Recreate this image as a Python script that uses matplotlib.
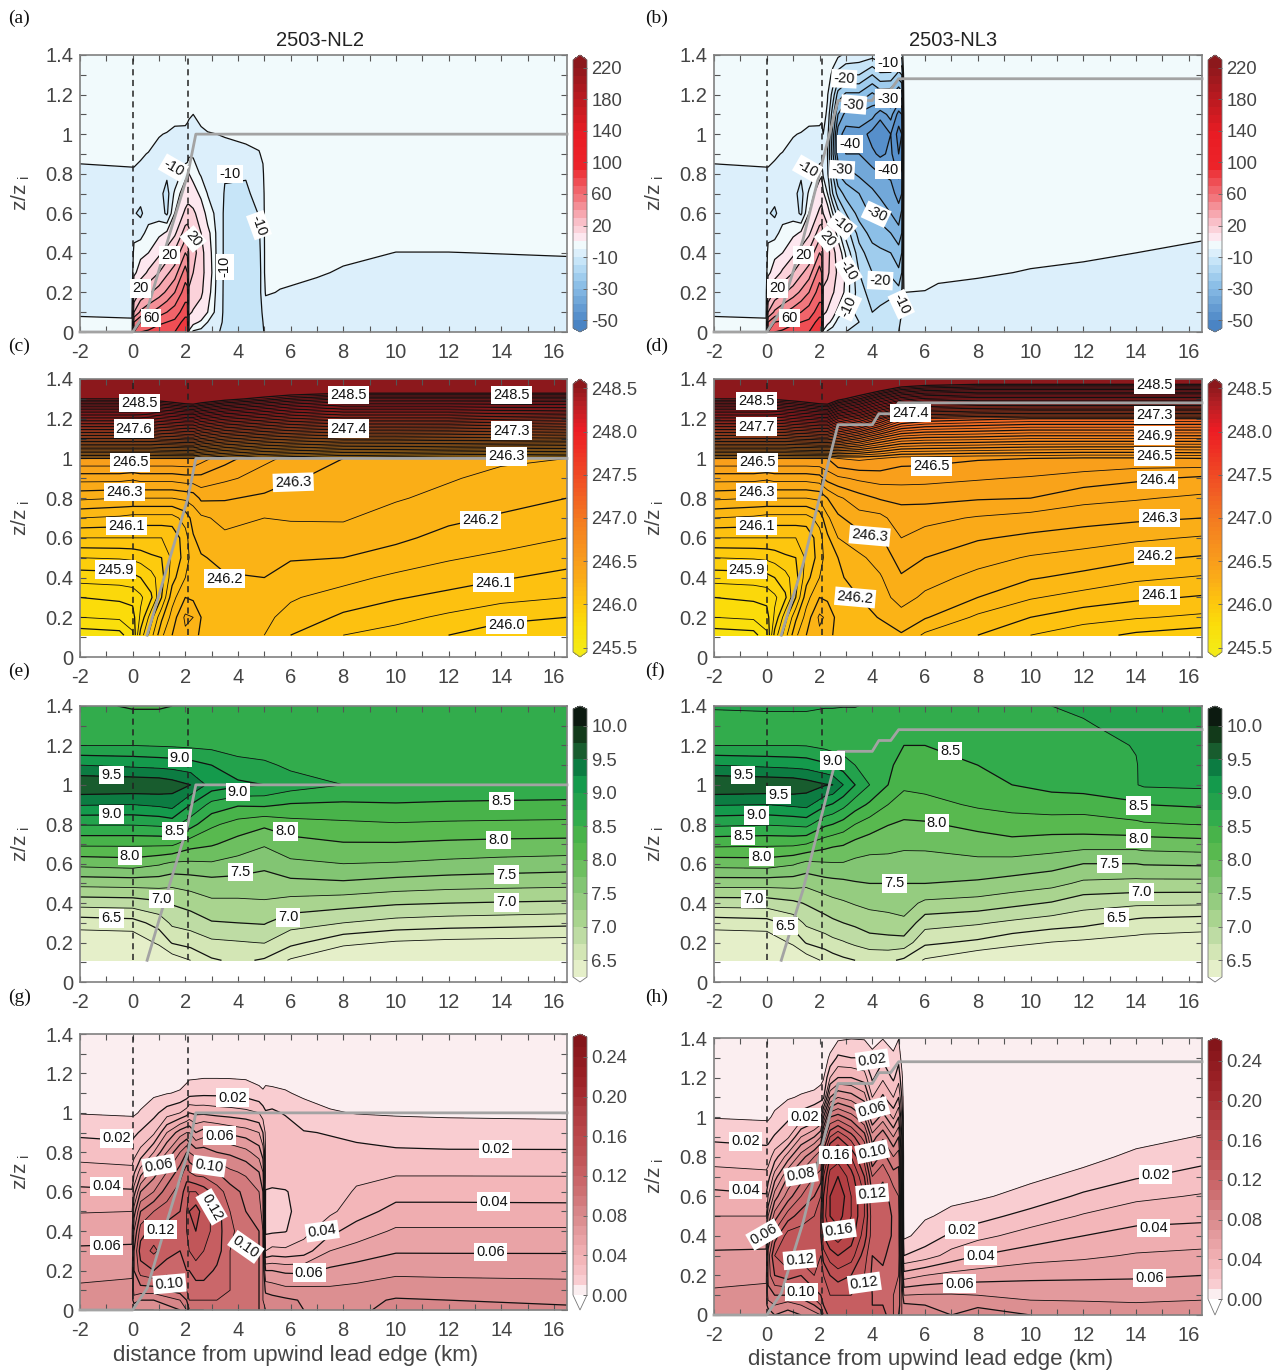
import numpy as np
import matplotlib
matplotlib.use('Agg')
import matplotlib.pyplot as plt
from matplotlib.colors import BoundaryNorm, LinearSegmentedColormap, ListedColormap
from matplotlib.cm import ScalarMappable

plt.rcParams['font.family'] = ['Liberation Sans', 'DejaVu Sans']
plt.rcParams['mathtext.default'] = 'regular'

W, H = 1280, 1370

# ---- height rows of the tables (z/zi)
z_fine = [0, .05, .1, .2, .3, .4, .5, .6, .7, .8, .9, 1.0, 1.1, 1.2, 1.3, 1.4]
z_coarse = [.11, .2, .3, .4, .5, .6, .7, .8, .9, 1.0, 1.1, 1.2, 1.3, 1.4]

# ---- (a)(b) heat flux, columns are one x station each, bottom to top
x_wb_left = [-2, -.02, .05, .3, .6, 1, 1.3, 1.6, 2.0, 2.08]
wb_left = [
    [-4, -4.6, -5.3, -6, -6.5, -7, -7.5, -7.5, -7, -6, -4, -3, -2.5, -2.2, -1.8, -1.5],
    [-4, -4.8, -5.3, -6, -6.5, -7, -8.5, -9, -7.5, -5.5, -4, -3, -2.5, -2.2, -1.8, -1.5],
    [60, 50, 30, 10, -2, -4, -6, -9.5, -8, -5.5, -4, -3, -2.5, -2.2, -1.8, -1.5],
    [70, 60, 42, 22, 4, -2, -6.5, -11, -8, -6, -4.5, -3, -2.5, -2.2, -1.8, -1.5],
    [72, 62, 48, 28, 12, 0, -3.5, -7, -7.5, -7, -5.2, -3, -2.5, -2.2, -1.8, -1.5],
    [75, 68, 55, 35, 20, 8, -2, -7, -8, -7, -6, -4.8, -2.5, -2.2, -1.8, -1.5],
    [78, 70, 60, 42, 28, 14, 1, -11, -12, -9, -6.5, -5.2, -3, -2.2, -1.8, -1.5],
    [80, 72, 65, 50, 35, 22, 8, 0, -4, -9, -8, -6, -3.5, -2.2, -1.8, -1.5],
    [90, 85, 75, 65, 55, 40, 25, 12, 4, -2, -8, -6.5, -3, -2.2, -1.8, -1.5],
    [90, 85, 75, 65, 50, 38, 25, 14, 5, -1, -8, -7, -3.5, -2.2, -1.8, -1.5],
]
x_wb_nl2 = [2.14, 2.3, 2.6, 2.85, 3.2, 3.5, 4.3, 4.8, 4.95, 5.05, 5.6, 7, 8, 10, 12, 16.5]
wb_nl2 = [
    [-1, 5, 12, 18, 25, 28, 22, 14, 5, 0, -6, -8, -4, -2.2, -1.8, -1.5],
    [-6, 2, 9, 16, 20, 24, 20, 12, 4, -3, -5.5, -5.5, -5, -2.5, -1.8, -1.5],
    [-7, -1, 5, 12, 14, 14, 10, 5, -2, -5.5, -6, -5.5, -4.2, -2.4, -1.8, -1.5],
    [-8, -5, 0, 3, 5, 4, 2, -3, -5.2, -6, -6, -5.2, -3.5, -2.4, -1.8, -1.5],
    [-9.5, -8, -7, -6.5, -6, -6, -6, -6, -6, -6, -5.8, -5, -3.2, -2.3, -1.8, -1.5],
    [-11, -11, -11, -11, -11, -11, -11, -11, -10.5, -9.5, -6, -4.8, -3, -2.3, -1.8, -1.5],
    [-13, -13, -13, -13, -13, -13, -13, -12, -11, -9.5, -5.5, -4.5, -2.8, -2.2, -1.8, -1.5],
    [-11.5, -11.5, -11.5, -11.5, -11.5, -11, -10.5, -9.8, -8, -6, -5.2, -4, -2.8, -2.2, -1.8, -1.5],
    [-10.5, -10, -9.5, -8, -8, -8, -7.5, -7, -6.5, -5.5, -4.5, -3.5, -2.6, -2.2, -1.8, -1.5],
    [-9, -8, -7, -4.6, -3, -3, -3, -3, -3, -3, -2.8, -2.6, -2.2, -2, -1.8, -1.5],
    [-10, -9, -8, -5.2, -4, -3.5, -3.2, -3, -2.8, -2.6, -2.4, -2.2, -2, -1.9, -1.7, -1.5],
    [-9.5, -9, -8, -6.2, -4.6, -3.5, -3, -2.8, -2.6, -2.4, -2.2, -2, -1.9, -1.8, -1.6, -1.5],
    [-9.5, -9, -8.2, -6.8, -5.4, -4.2, -3.4, -3, -2.7, -2.4, -2.2, -2, -1.9, -1.8, -1.6, -1.5],
    [-9.5, -9, -8.5, -7, -6, -5.05, -3.8, -3.2, -2.8, -2.5, -2.2, -2, -1.9, -1.8, -1.6, -1.5],
    [-9.5, -9, -8.5, -7, -6, -5.05, -3.8, -3.2, -2.8, -2.5, -2.2, -2, -1.9, -1.8, -1.6, -1.5],
    [-9.5, -9, -8.5, -7, -5.9, -4.8, -3.8, -3.2, -2.8, -2.5, -2.2, -2, -1.9, -1.8, -1.6, -1.5],
]
x_wb_nl3 = [2.14, 2.3, 2.5, 2.7, 3, 3.5, 4, 4.3, 4.7, 5.0, 5.12, 5.2, 6, 6.5, 8, 10, 12, 14, 16.5]
wb_nl3 = [
    [-1, 5, 12, 18, 25, 28, 20, 10, 1, -6, -7, -5, -3, -2.5, -2, -1.5],
    [-6, 2, 9, 16, 22, 24, 15, 4, -5, -9, -10, -8, -6, -4.5, -3, -2],
    [-8, -2, 3, 11, 15, 14, 6, -5, -15, -20, -24, -22, -18, -12, -6, -3],
    [-9, -7, -2, 6, 8, 5, -3, -13, -22, -30, -38, -38, -30, -22, -12, -4],
    [-10, -9, -7, -2, -1, -6, -12, -20, -27, -33, -40, -42, -37, -26, -15, -6],
    [-11, -10, -12, -13, -15, -18, -22, -27, -30, -36, -40, -42, -36, -26, -15, -7],
    [-12, -13, -15, -17, -20, -23, -27, -31, -34, -38, -44, -47, -38, -31, -20, -8],
    [-12, -13, -14, -17, -20, -24, -28, -32, -36, -40, -46, -50, -43, -28, -16, -7],
    [-11, -12, -13, -16, -21, -25, -30, -35, -38, -41, -44, -45, -38, -29, -16, -8],
    [-10, -11, -12, -18, -24, -28, -33, -38, -42, -46, -50, -52, -47, -35, -22, -10],
    [-9, -9, -10, -14, -20, -25, -30, -34, -40, -44, -48, -50, -45, -32, -20, -8],
    [-8.5, -8, -7, -5, -3, -2.8, -2.6, -2.4, -2.2, -2, -1.9, -1.8, -1.7, -1.6, -1.5, -1.4],
    [-9, -8.5, -7.6, -5.1, -4, -3.5, -3.2, -3, -2.8, -2.6, -2.4, -2.2, -2, -1.9, -1.7, -1.5],
    [-10, -9, -8, -5.5, -4.4, -3.7, -3.3, -3, -2.8, -2.6, -2.4, -2.2, -2, -1.9, -1.7, -1.5],
    [-9.5, -9, -8, -6, -4.6, -4, -3.5, -3.1, -2.8, -2.6, -2.4, -2.2, -2, -1.9, -1.7, -1.5],
    [-9.5, -9, -8.5, -6.8, -5.2, -4.2, -3.5, -3.1, -2.8, -2.6, -2.4, -2.2, -2, -1.9, -1.7, -1.5],
    [-9.5, -9, -8.5, -7, -5.6, -4.5, -3.7, -3.2, -2.8, -2.6, -2.4, -2.2, -2, -1.9, -1.7, -1.5],
    [-9.5, -9, -8.5, -7.5, -6, -5, -4, -3.4, -2.9, -2.6, -2.4, -2.2, -2, -1.9, -1.7, -1.5],
    [-9.5, -9, -8.5, -8, -6.5, -5.6, -4.6, -3.8, -3.2, -2.8, -2.4, -2.2, -2, -1.9, -1.7, -1.5],
]

# ---- (c)(d) potential temperature
x_theta_left = [-2, -.5, 0, .3, .7, 1.1, 1.5, 2]
theta_left = [
    [245.67, 245.75, 245.80, 245.87, 245.95, 246.05, 246.15, 246.26, 246.37, 246.5, 247.2, 247.85, 248.5, 248.9],
    [245.68, 245.76, 245.81, 245.875, 245.955, 246.05, 246.14, 246.25, 246.37, 246.5, 247.2, 247.85, 248.5, 248.9],
    [245.74, 245.78, 245.815, 245.885, 245.96, 246.05, 246.13, 246.25, 246.36, 246.5, 247.2, 247.85, 248.5, 248.9],
    [245.92, 245.86, 245.84, 245.9, 245.97, 246.05, 246.13, 246.25, 246.37, 246.5, 247.2, 247.85, 248.52, 248.9],
    [246.03, 245.98, 245.89, 245.93, 245.99, 246.05, 246.13, 246.25, 246.37, 246.5, 247.2, 247.87, 248.55, 248.9],
    [246.14, 246.09, 246.0, 245.98, 246.0, 246.05, 246.13, 246.25, 246.37, 246.5, 247.22, 247.9, 248.58, 248.95],
    [246.2, 246.17, 246.13, 246.08, 246.06, 246.06, 246.13, 246.25, 246.37, 246.5, 247.23, 247.92, 248.62, 249.0],
    [246.24, 246.26, 246.2, 246.15, 246.12, 246.13, 246.17, 246.26, 246.38, 246.5, 247.25, 247.95, 248.68, 249.0],
]
x_theta_nl2 = [2.3, 2.6, 3.5, 5, 6, 8, 10, 12, 14, 16.5]
theta_nl2 = [
    [246.22, 246.25, 246.19, 246.17, 246.18, 246.195, 246.22, 246.27, 246.38, 246.5, 247.25, 247.95, 248.7, 249.0],
    [246.19, 246.2, 246.19, 246.19, 246.195, 246.22, 246.24, 246.31, 246.385, 246.47, 247.2, 247.9, 248.65, 249.0],
    [246.155, 246.165, 246.18, 246.195, 246.215, 246.24, 246.265, 246.305, 246.36, 246.42, 247.12, 247.82, 248.55, 249.0],
    [246.15, 246.16, 246.18, 246.2, 246.215, 246.235, 246.25, 246.29, 246.33, 246.36, 247.05, 247.75, 248.45, 249.0],
    [246.10, 246.135, 246.155, 246.175, 246.205, 246.225, 246.255, 246.28, 246.305, 246.34, 247.02, 247.7, 248.38, 249.0],
    [246.05, 246.09, 246.13, 246.165, 246.2, 246.23, 246.255, 246.27, 246.285, 246.3, 246.98, 247.65, 248.3, 249.0],
    [246.03, 246.065, 246.105, 246.14, 246.18, 246.21, 246.23, 246.255, 246.27, 246.285, 246.98, 247.65, 248.3, 249.0],
    [246.0, 246.04, 246.085, 246.125, 246.155, 246.185, 246.21, 246.235, 246.255, 246.27, 246.97, 247.65, 248.3, 249.0],
    [245.97, 246.015, 246.065, 246.105, 246.14, 246.17, 246.195, 246.215, 246.235, 246.26, 246.96, 247.62, 248.3, 249.0],
    [245.97, 246.0, 246.05, 246.085, 246.12, 246.15, 246.175, 246.2, 246.22, 246.25, 246.95, 247.6, 248.3, 249.0],
]
x_theta_nl3 = [2.3, 2.7, 3.5, 4.3, 5.1, 6, 8, 10, 12, 14, 16.5]
theta_nl3 = [
    [246.22, 246.24, 246.19, 246.17, 246.18, 246.19, 246.24, 246.3, 246.42, 246.5, 247.25, 247.95, 248.7, 249.0],
    [246.18, 246.18, 246.18, 246.19, 246.2, 246.25, 246.29, 246.34, 246.44, 246.55, 247.2, 247.8, 248.55, 249.0],
    [246.16, 246.17, 246.2, 246.225, 246.24, 246.28, 246.33, 246.38, 246.46, 246.56, 247.1, 247.68, 248.4, 249.0],
    [246.16, 246.205, 246.23, 246.245, 246.27, 246.295, 246.335, 246.405, 246.47, 246.55, 246.98, 247.5, 248.2, 248.95],
    [246.195, 246.23, 246.27, 246.295, 246.32, 246.35, 246.38, 246.41, 246.47, 246.52, 246.9, 247.3, 248.05, 248.8],
    [246.14, 246.205, 246.24, 246.27, 246.3, 246.33, 246.365, 246.415, 246.465, 246.52, 246.88, 247.25, 247.98, 248.75],
    [246.1, 246.14, 246.2, 246.235, 246.27, 246.305, 246.345, 246.405, 246.455, 246.505, 246.87, 247.22, 247.95, 248.7],
    [246.05, 246.1, 246.155, 246.205, 246.245, 246.29, 246.33, 246.4, 246.445, 246.5, 246.85, 247.2, 247.95, 248.7],
    [246.02, 246.07, 246.13, 246.185, 246.23, 246.275, 246.32, 246.365, 246.43, 246.49, 246.85, 247.2, 247.95, 248.7],
    [245.99, 246.055, 246.11, 246.16, 246.21, 246.26, 246.31, 246.355, 246.41, 246.49, 246.85, 247.2, 247.95, 248.7],
    [245.97, 246.04, 246.095, 246.145, 246.195, 246.245, 246.3, 246.34, 246.39, 246.5, 246.85, 247.2, 247.95, 248.7],
]

# ---- (e)(f) total water
x_q_nl2 = [-2, 0, 1, 1.5, 2.2, 3, 4, 5, 6, 8, 10, 12, 14, 16.5]
q_nl2 = [
    [5.85, 6.05, 6.36, 6.85, 7.33, 7.83, 8.3, 8.77, 9.27, 9.72, 9.25, 8.75, 8.6, 8.55],
    [5.85, 6.05, 6.4, 6.87, 7.35, 7.87, 8.3, 8.77, 9.25, 9.7, 9.2, 8.75, 8.6, 8.48],
    [5.95, 6.3, 6.6, 6.95, 7.35, 7.78, 8.3, 8.8, 9.3, 9.68, 9.17, 8.73, 8.6, 8.48],
    [6.1, 6.52, 6.8, 7.02, 7.31, 7.7, 8.3, 8.85, 9.35, 9.62, 9.15, 8.72, 8.6, 8.5],
    [6.25, 6.6, 6.85, 7.1, 7.35, 7.7, 8.1, 8.6, 9.0, 9.5, 9.1, 8.7, 8.58, 8.51],
    [6.47, 6.7, 6.98, 7.2, 7.4, 7.72, 8.03, 8.3, 8.67, 9.15, 9.0, 8.68, 8.58, 8.52],
    [6.55, 6.73, 7.0, 7.2, 7.4, 7.65, 7.9, 8.15, 8.53, 9.05, 8.85, 8.62, 8.55, 8.52],
    [6.47, 6.76, 7.02, 7.22, 7.39, 7.56, 7.78, 8.05, 8.55, 9.0, 8.8, 8.6, 8.55, 8.52],
    [6.22, 6.57, 6.85, 7.16, 7.43, 7.7, 7.9, 8.15, 8.48, 8.87, 8.7, 8.58, 8.53, 8.52],
    [5.95, 6.32, 6.75, 7.1, 7.46, 7.75, 7.98, 8.2, 8.46, 8.75, 8.62, 8.55, 8.53, 8.52],
    [5.9, 6.22, 6.66, 7.03, 7.4, 7.73, 7.98, 8.23, 8.48, 8.72, 8.6, 8.55, 8.53, 8.52],
    [5.85, 6.18, 6.62, 7.0, 7.36, 7.69, 7.95, 8.21, 8.46, 8.7, 8.6, 8.55, 8.53, 8.52],
    [5.82, 6.16, 6.6, 6.98, 7.34, 7.66, 7.93, 8.2, 8.45, 8.69, 8.6, 8.55, 8.53, 8.52],
    [5.8, 6.14, 6.57, 6.96, 7.32, 7.63, 7.92, 8.19, 8.44, 8.68, 8.6, 8.55, 8.53, 8.52],
]
x_q_nl3 = [-2, 0, 1, 1.5, 2.2, 2.5, 2.9, 3.35, 3.9, 4.6, 5.2, 6, 8, 9.3, 10.8, 12, 14, 14.3, 16.5]
q_nl3 = [
    [5.85, 6.05, 6.36, 6.86, 7.35, 7.85, 8.32, 8.8, 9.27, 9.72, 9.25, 8.75, 8.62, 8.78],
    [5.85, 6.05, 6.4, 6.87, 7.35, 7.87, 8.3, 8.77, 9.25, 9.7, 9.2, 8.75, 8.62, 8.8],
    [5.95, 6.3, 6.6, 6.95, 7.35, 7.78, 8.3, 8.8, 9.3, 9.68, 9.17, 8.75, 8.62, 8.8],
    [6.1, 6.52, 6.8, 7.02, 7.31, 7.68, 8.25, 8.83, 9.33, 9.62, 9.15, 8.74, 8.62, 8.8],
    [6.3, 6.62, 6.9, 7.13, 7.4, 7.72, 8.1, 8.55, 9.05, 9.52, 9.05, 8.68, 8.6, 8.77],
    [6.38, 6.68, 6.95, 7.18, 7.42, 7.73, 8.05, 8.5, 8.98, 9.5, 8.97, 8.65, 8.6, 8.77],
    [6.45, 6.73, 7.0, 7.22, 7.44, 7.73, 8.02, 8.4, 8.83, 9.25, 8.88, 8.62, 8.6, 8.76],
    [6.5, 6.8, 7.05, 7.27, 7.48, 7.68, 7.93, 8.25, 8.62, 9.0, 8.75, 8.58, 8.62, 8.76],
    [6.55, 6.88, 7.13, 7.31, 7.5, 7.65, 7.87, 8.13, 8.46, 8.75, 8.65, 8.58, 8.62, 8.72],
    [6.55, 6.9, 7.16, 7.33, 7.5, 7.67, 7.83, 8.01, 8.25, 8.5, 8.55, 8.57, 8.6, 8.65],
    [6.45, 6.9, 7.2, 7.35, 7.5, 7.65, 7.8, 7.96, 8.13, 8.3, 8.4, 8.5, 8.55, 8.6],
    [6.22, 6.55, 6.85, 7.2, 7.5, 7.62, 7.82, 7.97, 8.16, 8.33, 8.42, 8.5, 8.55, 8.6],
    [6.0, 6.45, 6.78, 7.15, 7.46, 7.68, 7.88, 8.07, 8.29, 8.39, 8.5, 8.55, 8.58, 8.62],
    [5.95, 6.33, 6.7, 7.07, 7.4, 7.66, 7.92, 8.14, 8.33, 8.5, 8.55, 8.58, 8.62, 8.68],
    [5.9, 6.24, 6.62, 6.98, 7.33, 7.6, 7.88, 8.13, 8.38, 8.57, 8.6, 8.63, 8.68, 8.75],
    [5.87, 6.2, 6.57, 6.85, 7.2, 7.5, 7.85, 8.15, 8.35, 8.62, 8.65, 8.68, 8.72, 8.8],
    [5.83, 6.15, 6.42, 6.8, 7.17, 7.5, 7.85, 8.2, 8.45, 8.74, 8.74, 8.76, 8.85, 8.9],
    [5.82, 6.14, 6.4, 6.8, 7.17, 7.52, 7.87, 8.22, 8.5, 8.78, 8.79, 8.8, 8.85, 8.88],
    [5.8, 6.12, 6.36, 6.79, 7.17, 7.54, 7.9, 8.26, 8.54, 8.8, 8.82, 8.84, 8.86, 8.88],
]

# ---- (g)(h) liquid water
x_ql_nl2 = [-2, -.02, .05, .3, .8, 1.3, 1.8, 2.05, 2.15, 2.4, 2.7, 3.2, 3.7, 4.3, 4.8, 4.95, 5.05,
            5.3, 5.8, 6.5, 7.5, 8.5, 10, 12, 16.5]
ql_nl2 = [
    [.08, .077, .072, .0665, .0615, .0555, .0495, .042, .034, .026, .018, .0095, .005, .004, .003, .002],
    [.08, .077, .073, .068, .062, .056, .05, .041, .033, .024, .017, .0085, .005, .004, .003, .002],
    [.07, .085, .095, .10, .10, .09, .075, .055, .038, .026, .018, .0085, .005, .004, .003, .002],
    [.07, .08, .095, .115, .125, .115, .10, .08, .055, .033, .021, .011, .005, .004, .003, .002],
    [.07, .08, .095, .12, .132, .125, .11, .09, .075, .05, .028, .017, .008, .004, .003, .002],
    [.075, .085, .10, .113, .125, .125, .115, .105, .09, .07, .05, .025, .0095, .005, .003, .002],
    [.08, .09, .105, .115, .12, .125, .12, .115, .105, .09, .065, .03, .011, .005, .003, .002],
    [.09, .10, .11, .12, .125, .13, .13, .125, .115, .10, .07, .035, .014, .006, .003, .002],
    [.1, .11, .115, .12, .13, .14, .14, .13, .11, .09, .07, .04, .016, .007, .003, .002],
    [.1, .11, .115, .125, .135, .14, .145, .13, .105, .085, .06, .038, .017, .007, .003, .002],
    [.1, .11, .115, .125, .13, .135, .135, .125, .105, .085, .065, .038, .0175, .0075, .003, .002],
    [.105, .11, .112, .118, .125, .125, .125, .115, .10, .08, .062, .036, .0175, .0075, .003, .002],
    [.105, .108, .11, .11, .11, .112, .11, .105, .092, .078, .058, .035, .017, .0075, .003, .002],
    [.108, .106, .105, .105, .105, .105, .10, .097, .088, .073, .055, .033, .016, .0072, .003, .002],
    [.10, .10, .10, .10, .10, .10, .095, .09, .08, .065, .05, .03, .0125, .006, .003, .002],
    [.095, .09, .09, .09, .09, .09, .085, .08, .07, .055, .04, .025, .011, .006, .003, .002],
    [.09, .085, .078, .06, .03, .018, .017, .019, .029, .03, .028, .021, .0125, .006, .003, .002],
    [.088, .084, .076, .06, .033, .0185, .0175, .019, .024, .0295, .028, .022, .012, .006, .003, .002],
    [.085, .082, .073, .058, .032, .0195, .018, .0195, .0245, .03, .026, .019, .011, .005, .003, .002],
    [.08, .079, .073, .0575, .035, .0265, .024, .023, .023, .0225, .0205, .015, .008, .004, .003, .002],
    [.08, .078, .072, .062, .05, .0375, .028, .0255, .0245, .0225, .0195, .011, .006, .004, .003, .002],
    [.078, .077, .073, .0645, .054, .0445, .0355, .031, .0275, .022, .018, .0095, .006, .004, .003, .002],
    [.083, .081, .076, .0675, .059, .0515, .0435, .036, .0285, .0215, .015, .009, .006, .005, .004, .003],
    [.082, .08, .0755, .067, .059, .0515, .0435, .036, .0285, .021, .0145, .0085, .006, .005, .004, .003],
    [.081, .079, .0745, .0665, .059, .0515, .0435, .0355, .0285, .021, .014, .008, .006, .005, .004, .003],
]
x_ql_nl3 = [-2, -.02, .05, .3, .8, 1.3, 1.8, 2.05, 2.15, 2.4, 2.7, 3.2, 3.7, 4, 4.4, 4.8, 5.0, 5.12,
            5.2, 6, 7, 8, 10, 12, 14, 16.5]
ql_nl3 = [
    [.08, .077, .072, .0665, .0615, .056, .05, .043, .034, .026, .018, .0095, .005, .004, .003, .002],
    [.08, .077, .073, .068, .062, .056, .05, .041, .033, .024, .017, .0085, .005, .004, .003, .002],
    [.07, .085, .095, .105, .105, .09, .07, .05, .035, .025, .017, .0085, .005, .004, .003, .002],
    [.08, .09, .10, .12, .13, .115, .095, .075, .055, .035, .021, .012, .006, .004, .003, .002],
    [.075, .085, .10, .125, .14, .135, .115, .095, .08, .055, .028, .018, .009, .004, .003, .002],
    [.08, .09, .105, .12, .135, .135, .125, .11, .095, .075, .05, .025, .011, .005, .003, .002],
    [.085, .10, .115, .13, .135, .135, .13, .12, .11, .09, .06, .032, .013, .005, .003, .002],
    [.09, .11, .12, .13, .13, .14, .14, .13, .115, .10, .07, .038, .016, .0065, .003, .002],
    [.11, .12, .125, .13, .145, .16, .165, .16, .15, .13, .10, .06, .018, .009, .004, .002],
    [.125, .125, .13, .14, .155, .17, .18, .18, .175, .16, .13, .10, .06, .03, .012, .0035],
    [.125, .13, .13, .145, .16, .175, .185, .19, .18, .165, .14, .105, .07, .04, .022, .008],
    [.125, .125, .13, .14, .155, .165, .17, .17, .165, .15, .125, .095, .065, .04, .02, .0095],
    [.125, .125, .125, .13, .135, .145, .15, .15, .14, .125, .105, .08, .055, .035, .02, .009],
    [.125, .12, .12, .118, .12, .125, .125, .12, .11, .09, .075, .05, .03, .018, .013, .006],
    [.125, .12, .118, .118, .122, .128, .13, .125, .118, .105, .088, .065, .042, .028, .018, .0095],
    [.11, .11, .11, .112, .115, .118, .118, .115, .105, .09, .07, .048, .03, .018, .012, .006],
    [.1, .105, .105, .11, .115, .115, .115, .11, .105, .095, .08, .06, .04, .026, .017, .0095],
    [.09, .09, .09, .08, .07, .06, .06, .055, .05, .05, .04, .03, .02, .013, .006, .002],
    [.09, .082, .07, .045, .02, .008, .006, .005, .005, .005, .004, .004, .003, .003, .002, .002],
    [.083, .08, .071, .05, .025, .014, .009, .0065, .005, .005, .004, .004, .003, .003, .002, .002],
    [.08, .078, .071, .0535, .034, .022, .012, .008, .006, .005, .004, .004, .003, .003, .002, .002],
    [.083, .079, .07, .055, .04, .027, .016, .0085, .006, .005, .004, .004, .003, .003, .002, .002],
    [.08, .073, .067, .0575, .0455, .0345, .024, .0135, .008, .006, .005, .004, .003, .003, .002, .002],
    [.078, .072, .067, .058, .048, .04, .031, .022, .0125, .007, .005, .004, .004, .003, .002, .002],
    [.077, .071, .067, .0585, .051, .0435, .0365, .0275, .019, .012, .007, .005, .004, .003, .003, .002],
    [.078, .072, .068, .06, .0525, .045, .0375, .031, .0235, .017, .0105, .006, .005, .004, .003, .002],
]

# ---- inversion height, grey line
zi_x_nl2 = [-2, 0, .55, 1.35, 2.1, 2.4, 16.5]
zi_z_nl2 = [0, 0, .11, .47, .8, 1, 1]
zi_x_nl3 = [-2, 0, .55, 1.38, 2.07, 2.7, 4, 4.25, 4.7, 5.0, 16.5]
zi_z_nl3 = [0, 0, .11, .47, .84, 1.17, 1.17, 1.225, 1.225, 1.28, 1.28]

# ---- contour labels: text, x, z, rotation
labels_a = [('-10', 1.55, .83, -30), ('-10', 3.7, .80, 0), ('-10', 4.8, .54, -70), ('-10', 3.5, .33, 90),
            ('20', 2.3, .47, -50), ('20', 1.4, .39, 0), ('20', .3, .22, 0), ('60', .7, .07, 0)]
labels_b = [('-10', 4.6, 1.36, 0), ('-20', 2.93, 1.28, -3), ('-30', 3.3, 1.15, -5), ('-30', 4.6, 1.18, 0),
            ('-40', 3.15, .95, 0), ('-30', 2.85, .82, -3), ('-40', 4.6, .82, 0), ('-10', 1.55, .825, -30),
            ('-30', 4.15, .595, -25), ('-10', 2.85, .54, -40), ('20', 2.3, .47, -50), ('20', 1.4, .39, 0),
            ('-10', 3.1, .31, -60), ('-20', 4.3, .26, -3), ('-10', 3.1, .13, 65), ('-10', 5.1, .14, -65),
            ('20', .4, .22, 0), ('60', .85, .07, 0)]
labels_c = [('248.5', .25, 1.28, 0), ('247.6', .05, 1.15, 0), ('248.5', 8.2, 1.32, 0), ('247.4', 8.2, 1.15, 0),
            ('248.5', 14.4, 1.32, 0), ('247.3', 14.4, 1.14, 0), ('246.5', -.1, .98, 0), ('246.3', 14.2, 1.01, 0),
            ('246.3', 6.1, .88, 2), ('246.3', -.3, .83, 0), ('246.2', 13.2, .69, 0), ('246.1', -.25, .66, 0),
            ('245.9', -.65, .44, 0), ('246.2', 3.5, .395, 0), ('246.1', 13.7, .375, 0), ('246.0', 14.2, .16, 0)]
labels_d = [('248.5', -.4, 1.29, 0), ('247.7', -.4, 1.16, 0), ('248.5', 14.7, 1.37, 0), ('247.4', 5.45, 1.23, 0),
            ('247.3', 14.7, 1.22, 0), ('246.9', 14.7, 1.115, 0), ('246.5', 14.7, 1.01, 0), ('246.5', -.35, .98, 0),
            ('246.5', 6.25, .96, 0), ('246.4', 14.8, .89, 0), ('246.3', -.4, .83, 0), ('246.3', 14.9, .70, 0),
            ('246.1', -.4, .66, 0), ('246.3', 3.9, .61, -5), ('246.2', 14.7, .51, 0), ('245.9', -.75, .44, 0),
            ('246.2', 3.35, .3, -5), ('246.1', 14.9, .31, 0)]
labels_e = [('9.0', 1.8, 1.135, 0), ('9.5', -.8, 1.05, 0), ('9.0', 4, .965, 0), ('8.5', 14, .917, 0),
            ('9.0', -.8, .85, 0), ('8.5', 1.6, .766, 0), ('8.0', 5.8, .764, 0), ('8.0', 13.9, .72, 0),
            ('8.0', -.1, .64, 0), ('7.5', 4.1, .557, 0), ('7.5', 14.2, .545, 0), ('7.0', 1.1, .42, 0),
            ('7.0', 14.2, .404, 0), ('6.5', -.8, .323, 0), ('7.0', 5.9, .328, 0)]
labels_f = [('8.5', 6.95, 1.173, 0), ('9.0', 2.5, 1.123, 0), ('9.5', -.9, 1.05, 0), ('9.5', .45, .95, 0),
            ('8.5', 14.1, .895, 0), ('9.0', -.4, .845, 0), ('8.0', 6.45, .808, 0), ('8.5', -.9, .74, 0),
            ('8.0', 14.1, .727, 0), ('8.0', -.2, .635, 0), ('7.5', 13, .6, 0), ('7.5', 4.85, .5, 0),
            ('7.0', 14.2, .458, 0), ('7.0', -.5, .42, 0), ('6.5', 13.25, .327, 0), ('6.5', .72, .285, 0)]
labels_g = [('0.02', 3.8, 1.077, 0), ('0.06', 3.3, .885, 0), ('0.02', -.6, .87, 0), ('0.02', 13.8, .816, 0),
            ('0.06', 1, .733, 10), ('0.10', 2.9, .73, -8), ('0.04', -1, .627, 0), ('0.04', 13.7, .55, 0),
            ('0.12', 3, .523, -60), ('0.04', 7.2, .4, 8), ('0.12', 1.05, .408, 0), ('0.06', -1, .327, 0),
            ('0.10', 4.3, .32, -35), ('0.06', 13.6, .293, 0), ('0.06', 6.7, .19, 0), ('0.10', 1.4, .133, 5)]
labels_h = [('0.02', 4, 1.29, 8), ('0.06', 4, 1.04, 15), ('0.02', 1.43, 1.0, 0), ('0.02', -.8, .877, 0),
            ('0.16', 2.6, .81, 0), ('0.10', 4, .825, 12), ('0.08', 1.3, .708, 10), ('0.02', 14.75, .71, 0),
            ('0.04', -.8, .632, 0), ('0.12', 4, .613, 5), ('0.04', 14.65, .44, 0), ('0.02', 7.4, .43, 0),
            ('0.16', 2.75, .43, 8), ('0.06', -.1, .407, 30), ('0.04', 8.1, .3, 0), ('0.12', 1.25, .28, 5),
            ('0.06', 14.5, .188, 0), ('0.06', 7.3, .159, 0), ('0.12', 3.7, .162, 8), ('0.10', 1.3, .117, 0)]

x_ticks = list(range(-2, 17))
x_ticklabels = [str(v) if v % 2 == 0 else '' for v in x_ticks]
z_ticks = [round(.1 * i, 1) for i in range(15)]
z_ticklabels = ['0', '', '0.2', '', '0.4', '', '0.6', '', '0.8', '', '1', '', '1.2', '', '1.4']

wb_ticks = [-50, -30, -10, 20, 60, 100, 140, 180, 220]
theta_ticks = [245.5, 246.0, 246.5, 247.0, 247.5, 248.0, 248.5]
q_ticks = [6.5, 7.0, 7.5, 8.0, 8.5, 9.0, 9.5, 10.0]
ql_ticks = [0, .04, .08, .12, .16, .20, .24]


def make_bands(anchors, n):
    # anchors are (band index, colour)
    cm = LinearSegmentedColormap.from_list('b', [(i / (n - 1), c) for i, c in anchors])
    return [cm(i / (n - 1)) for i in range(n)]


wb_levels = list(range(-55, 5, 5)) + list(range(10, 240, 10))
wb_bands = make_bands([(0, '#4a84c4'), (5, '#8dc0e8'), (8, '#c6e5f8'), (9, '#def0fb'), (10, '#f2fafc'),
                       (11, '#fde7ef'), (13, '#f9bec7'), (16, '#f2787e'), (20, '#ec2329'), (24, '#ea1c24'),
                       (33, '#8c181c')], 34)
theta_levels = list(np.round(np.arange(245.45, 248.56, .05), 2))
theta_bands = make_bands([(0, '#f4ea16'), (6, '#fbdc0a'), (11, '#fdc60e'), (15, '#fbb216'), (21, '#f89b1c'),
                          (29, '#f47f20'), (37, '#f15a24'), (45, '#ee3524'), (51, '#ed1c24'), (57, '#b51f24'),
                          (61, '#8c181c')], 62)
q_levels = list(np.round(np.arange(6.25, 10.3, .25), 2))
q_bands = ['#e5efc9', '#d3e6b5', '#bedca4', '#a9d48f', '#95cc80', '#82c573', '#6dbf60', '#58b94f',
           '#48b34a', '#32ac4c', '#23a24c', '#149a4c', '#0c7c42', '#185c2e', '#123a1a', '#0c1a10']
q_field_bands = ['#dbeabd'] + q_bands[1:]
ql_levels = list(np.round(np.arange(0, .265, .01), 2))
ql_bands = make_bands([(0, '#fbeef0'), (1, '#f9ccd0'), (2, '#f6bfc3'), (3, '#f3b5b8'), (4, '#efacaf'),
                       (5, '#e9a3a6'), (6, '#e39a9d'), (7, '#dc8f91'), (8, '#d78588'), (10, '#cd7072'),
                       (12, '#c65e61'), (14, '#bd4f52'), (16, '#b84548'), (18, '#ae3a3e'), (20, '#a32a2f'),
                       (22, '#981f24'), (25, '#84151a')], 26)

fig = plt.figure(figsize=(W / 100, H / 100), dpi=100)
GREY = '#444444'


def px_axes(l, t, r, b):
    return fig.add_axes([l / W, 1 - b / H, (r - l) / W, (b - t) / H])


def panel(l, t, r, b, xs, zs, cols, levels, bands, under, over, thin, thick, labels, zix, ziz, z0,
          cb_top, cb_bot, ticks, tick_fmt, tag, tag_x, tag_y, field_bands=None):
    ax = px_axes(l, t, r, b)
    table = np.array(cols, dtype=float).T
    # colours of the filled field
    f_bands = bands if field_bands is None else field_bands
    f_cmap = ListedColormap(f_bands).with_extremes(under=bands[0], over=bands[-1])
    f_norm = BoundaryNorm(levels, len(f_bands))
    ax.contourf(xs, zs, table, levels=levels, cmap=f_cmap, norm=f_norm, extend='both')
    if len(thin):
        ax.contour(xs, zs, table, levels=thin, colors='#111111', linewidths=.6, linestyles='solid')
    ax.contour(xs, zs, table, levels=thick, colors='#111111', linewidths=.9, linestyles='solid')

    for xv in [0, 2.1]:
        ax.plot([xv, xv], [z0, 1.4], color='#222222', lw=1.1, dashes=(4, 3), zorder=4)
    ax.plot(zix, ziz, color='#a3a3a3', lw=2, zorder=5, solid_joinstyle='round', clip_on=False)
    for txt, xv, zv, rot in labels:
        ax.text(xv, zv, txt, fontsize=10.5, ha='center', va='center', rotation=rot, color='#111111',
                rotation_mode='anchor', zorder=6, bbox=dict(fc='white', ec='none', pad=1.6))

    ax.set_xlim(-2, 16.5)
    ax.set_ylim(0, 1.4)
    ax.set_xticks(x_ticks)
    ax.set_xticklabels(x_ticklabels)
    ax.set_yticks(z_ticks)
    ax.set_yticklabels(z_ticklabels)
    ax.tick_params(direction='in', length=4, width=.8, color='#555555', top=True, right=True,
                   labelsize=14.5, labelcolor=GREY)
    ax.tick_params(axis='x', pad=8)
    ax.tick_params(axis='y', pad=5)
    for s in ax.spines.values():
        s.set_color('#808080')
        s.set_linewidth(1.2)

    # colour bar is drawn from its own bands, the box holds the two end pieces as well
    cax = px_axes(r + 6, t, r + 20, b)
    cmap = ListedColormap(bands).with_extremes(under=under, over=over)
    sm = ScalarMappable(norm=BoundaryNorm(levels, len(bands)), cmap=cmap)
    main = cb_bot - cb_top
    cb = fig.colorbar(sm, cax=cax, extend='both', spacing='uniform',
                      extendfrac=[(b - cb_bot) / main, (cb_top - t) / main], ticks=ticks)
    cb.ax.set_yticklabels([tick_fmt(v) for v in ticks])
    cb.ax.tick_params(direction='in', length=3, width=.7, color='#666666', labelsize=13.3,
                      labelcolor=GREY, pad=3)
    cb.outline.set_edgecolor('#777777')
    cb.outline.set_linewidth(.6)
    cb.ax.minorticks_off()

    fig.text(tag_x / W, 1 - tag_y / H, tag, fontsize=14, family='Liberation Serif', va='center', color='#111111')
    fig.text((l - 70) / W, 1 - (t + b) / 2 / H, r'z/z$_{\ i}$', rotation=90, fontsize=15, color=GREY,
             va='center', ha='left')
    return ax


def fmt_int(v):
    return str(v)


def fmt_1(v):
    return '%.1f' % v


def fmt_2(v):
    return '%.2f' % v


wb_line_levels = [v for v in wb_levels if v > -55]
x_a = x_wb_left + x_wb_nl2
x_b = x_wb_left + x_wb_nl3
x_c = x_theta_left + x_theta_nl2
x_d = x_theta_left + x_theta_nl3

theta_all = [round(245.7 + .05 * i, 2) for i in range(57)]
theta_thick = [v for v in theta_all if round(v * 100) % 10 == 0]
theta_thin = [v for v in theta_all if round(v * 100) % 10 != 0]
q_all = q_levels[:-1]
q_thick = [v for v in q_all if round(v * 100) % 50 == 0]
q_thin = [v for v in q_all if round(v * 100) % 50 != 0]
ql_all = ql_levels[1:-1]
ql_thick = [v for v in ql_all if round(v * 100) % 2 == 0]
ql_thin = [v for v in ql_all if round(v * 100) % 2 != 0]

panel(80, 55, 567, 332, x_a, z_fine, wb_left + wb_nl2, wb_levels, wb_bands, wb_bands[0], wb_bands[-1],
      [], wb_line_levels, labels_a, zi_x_nl2, zi_z_nl2, 0, 60, 328, wb_ticks, fmt_int, '(a)', 8, 18)
panel(714, 55, 1202, 332, x_b, z_fine, wb_left + wb_nl3, wb_levels, wb_bands, wb_bands[0], wb_bands[-1],
      [], wb_line_levels, labels_b, zi_x_nl3, zi_z_nl3, 0, 60, 328, wb_ticks, fmt_int, '(b)', 645, 18)
panel(80, 379, 567, 657, x_c, z_coarse, theta_left + theta_nl2, theta_levels, theta_bands, theta_bands[0],
      theta_bands[-1], theta_thin, theta_thick, labels_c, zi_x_nl2[2:], zi_z_nl2[2:], .11, 384, 652,
      theta_ticks, fmt_1, '(c)', 8, 346)
panel(714, 379, 1202, 657, x_d, z_coarse, theta_left + theta_nl3, theta_levels, theta_bands, theta_bands[0],
      theta_bands[-1], theta_thin, theta_thick, labels_d, zi_x_nl3[2:], zi_z_nl3[2:], .11, 384, 652,
      theta_ticks, fmt_1, '(d)', 645, 346)
panel(80, 706, 567, 982, x_q_nl2, z_coarse, q_nl2, q_levels, q_bands, 'white', '#0c1a10',
      q_thin, q_thick, labels_e, zi_x_nl2[2:], zi_z_nl2[2:], .11, 709, 977, q_ticks, fmt_1,
      '(e)', 8, 671, field_bands=q_field_bands)
panel(714, 706, 1202, 982, x_q_nl3, z_coarse, q_nl3, q_levels, q_bands, 'white', '#0c1a10',
      q_thin, q_thick, labels_f, zi_x_nl3[2:], zi_z_nl3[2:], .11, 709, 977, q_ticks, fmt_1,
      '(f)', 645, 671, field_bands=q_field_bands)
panel(80, 1034, 567, 1310, x_ql_nl2, z_fine, ql_nl2, ql_levels, ql_bands, 'white', ql_bands[-1],
      ql_thin, ql_thick, labels_g, zi_x_nl2, zi_z_nl2, 0, 1037, 1295, ql_ticks, fmt_2, '(g)', 8, 997)
panel(714, 1038, 1202, 1315, x_ql_nl3, z_fine, ql_nl3, ql_levels, ql_bands, 'white', ql_bands[-1],
      ql_thin, ql_thick, labels_h, zi_x_nl3, zi_z_nl3, 0, 1041, 1299, ql_ticks, fmt_2, '(h)', 645, 997)

fig.text(320 / W, 1 - 40 / H, '2503-NL2', fontsize=14.5, ha='center', va='center', color='#222222')
fig.text(953 / W, 1 - 40 / H, '2503-NL3', fontsize=14.5, ha='center', va='center', color='#222222')
fig.text(296 / W, 1 - 1356 / H, 'distance from upwind lead edge (km)', fontsize=16, ha='center', va='center',
         color=GREY)
fig.text(931 / W, 1 - 1360 / H, 'distance from upwind lead edge (km)', fontsize=16, ha='center', va='center',
         color=GREY)

fig.savefig('out.png', dpi=100)
